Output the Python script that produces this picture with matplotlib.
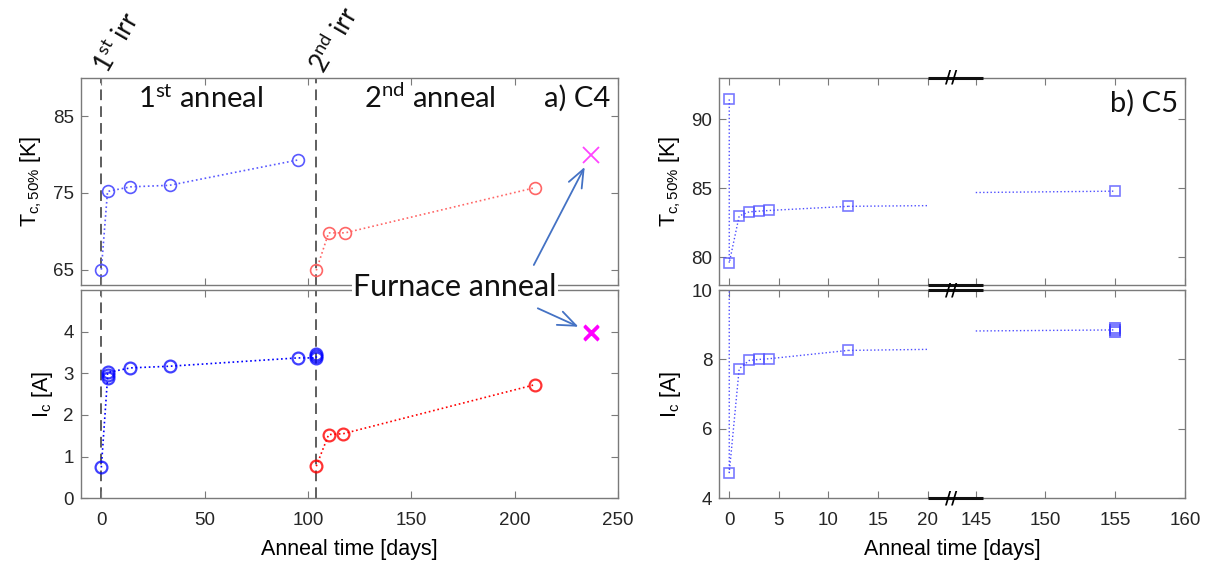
import numpy as np
import matplotlib
matplotlib.use("Agg")
import matplotlib.pyplot as plt

plt.rcParams['font.family'] = ['Liberation Sans', 'DejaVu Sans']
plt.rcParams['font.size'] = 13

# ---- data: sample C4 (two irradiations, two anneals) ----
irr_days = [0, 104]
c4_tc_days_1 = [0, 3, 14, 33, 95]
c4_tc_1 = [65.0, 75.2, 75.8, 76.0, 79.3]
c4_tc_days_2 = [104, 110, 118, 210]
c4_tc_2 = [64.9, 69.8, 69.8, 75.7]
c4_ic_days_1 = [0, 3, 3, 3, 14, 33, 95, 104, 104, 104]
c4_ic_1 = [0.74, 2.88, 2.95, 3.02, 3.13, 3.17, 3.37, 3.37, 3.41, 3.46]
c4_ic_days_2 = [104, 110, 117, 210]
c4_ic_2 = [0.77, 1.53, 1.55, 2.73]
furnace_day = [237]
furnace_tc = [80.0]
furnace_ic = [3.96, 4.0]

# ---- data: sample C5 ----
c5_tc_days = [0, 0, 1, 2, 3, 4, 12]
c5_tc = [91.45, 79.6, 83.0, 83.3, 83.35, 83.4, 83.7]
c5_tc_late_days = [155]
c5_tc_late = [84.8]
c5_tc_trend_days = [12, 20, 145, 155]
c5_tc_trend = [83.7, 83.75, 84.7, 84.8]
c5_ic_days = [0, 0, 1, 2, 3, 4, 12]
c5_ic = [10.6, 4.74, 7.73, 7.97, 8.0, 8.02, 8.26]
c5_ic_late_days = [155, 155, 155]
c5_ic_late = [8.78, 8.84, 8.9]
c5_ic_trend_days = [12, 20, 145, 155]
c5_ic_trend = [8.26, 8.29, 8.82, 8.85]

# broken x axis for C5: 0-20 | 145-160
GAP = 4.85
R = 1.406


def fwd(x):
    x = np.asarray(x, float)
    return np.where(x <= 20, x,
                    np.where(x >= 145, 20 + GAP + (x - 145) * R,
                             20 + (x - 20) * GAP / 125.0))


def inv(u):
    u = np.asarray(u, float)
    return np.where(u <= 20, u,
                    np.where(u >= 20 + GAP, 145 + (u - 20 - GAP) / R,
                             20 + (u - 20) * 125.0 / GAP))


ANN = ['Lato', 'DejaVu Sans']
edge = '#7a7a7a'
tick_col = '#262626'


def style(ax):
    for s in ax.spines.values():
        s.set_color(edge)
        s.set_linewidth(1.0)
    ax.tick_params(direction='in', length=5, top=True, right=True,
                   color=edge, labelcolor=tick_col, labelsize=13.5)
    ax.tick_params(axis='x', pad=10)
    ax.tick_params(axis='y', pad=5)


fig = plt.figure(figsize=(12.11, 5.63), dpi=100)
ax_tc = fig.add_axes([0.0666, 0.4938, 0.4437, 0.3677])
ax_ic = fig.add_axes([0.0666, 0.1149, 0.4437, 0.37])
ax_tc5 = fig.add_axes([0.594, 0.4938, 0.3845, 0.3677])
ax_ic5 = fig.add_axes([0.594, 0.1149, 0.3845, 0.37])

blue_l = (0.35, 0.35, 1.0)
red_l = (1.0, 0.4, 0.4)

# ---------------- C4 Tc ----------------
ax_tc.plot(c4_tc_days_1, c4_tc_1, ':', color=blue_l, lw=1.2, marker='o', ms=8.5,
           mfc='none', mec=blue_l, mew=1.2)
ax_tc.plot(c4_tc_days_2, c4_tc_2, ':', color=red_l, lw=1.2, marker='o', ms=8.5,
           mfc='none', mec=red_l, mew=1.2)
ax_tc.plot(furnace_day, furnace_tc, 'x', color='#ff44ff', ms=11, mew=1.3)
ax_tc.set_xlim(-10, 250)
ax_tc.set_ylim(63, 90)
ax_tc.set_yticks([65, 75, 85])
ax_tc.set_xticks([0, 50, 100, 150, 200, 250])
ax_tc.set_xticklabels([])
ax_tc.set_ylabel(r'T$_\mathregular{c,50\%}$ [K]', fontsize=15.5, labelpad=6)

# ---------------- C4 Ic ----------------
ax_ic.plot(c4_ic_days_1, c4_ic_1, ':', color='b', lw=1.2, marker='o', ms=8.5,
           mfc='none', mec=(0, 0, 1, 0.75), mew=1.6)
ax_ic.plot(c4_ic_days_2, c4_ic_2, ':', color='r', lw=1.2, marker='o', ms=8.5,
           mfc='none', mec=(1, 0, 0, 0.8), mew=1.6)
ax_ic.plot(furnace_day * 2, furnace_ic, 'x', color='#ff00ff', ms=10, mew=2.2)
ax_ic.set_xlim(-10, 250)
ax_ic.set_ylim(0, 5)
ax_ic.set_yticks([0, 1, 2, 3, 4])
ax_ic.set_xticks([0, 50, 100, 150, 200, 250])
ax_ic.set_ylabel(r'I$_\mathregular{c}$ [A]', fontsize=15.5, labelpad=6)
ax_ic.set_xlabel('Anneal time [days]', fontsize=15.5, labelpad=7)

for ax in (ax_tc, ax_ic):
    style(ax)
    for d in irr_days:
        ax.axvline(d, color='#333333', lw=1.1, dashes=(7, 4), zorder=0)

# irradiation labels above the top panel
for d, lab in zip(irr_days, [r'$\mathregular{1^{st}}$ irr', r'$\mathregular{2^{nd}}$ irr']):
    ax_tc.annotate(lab, xy=(d, 1.0), xycoords=('data', 'axes fraction'),
                   xytext=(0, 5), textcoords='offset points', rotation=60,
                   rotation_mode='anchor', ha='left', va='center',
                   fontsize=19, family=ANN, color='#111111')

ax_tc.text(48, 0.9, r'$\mathregular{1^{st}}$ anneal', transform=ax_tc.get_xaxis_transform(),
           ha='center', va='center', fontsize=21, family=ANN, color='#111111')
ax_tc.text(159, 0.9, r'$\mathregular{2^{nd}}$ anneal', transform=ax_tc.get_xaxis_transform(),
           ha='center', va='center', fontsize=21, family=ANN, color='#111111')
ax_tc.text(0.985, 0.9, 'a) C4', transform=ax_tc.transAxes, ha='right', va='center',
           fontsize=21, family=ANN, color='#111111')

# furnace anneal label and arrows
fig.text(0.3757, 0.4902, 'Furnace anneal', ha='center', va='center', fontsize=22,
         family=ANN, color='#111111', zorder=10,
         bbox=dict(facecolor='white', edgecolor='none', pad=1.0))
arrow = dict(arrowstyle='->,head_length=1.0,head_width=0.4', color='#4472C4', lw=1.3,
             shrinkA=0, shrinkB=10)
ax_tc.annotate('', xy=(furnace_day[0], furnace_tc[0]), xycoords='data',
               xytext=(0.4408, 0.5293), textcoords='figure fraction',
               arrowprops=arrow, annotation_clip=False)
ax_ic.annotate('', xy=(furnace_day[0], np.mean(furnace_ic)), xycoords='data',
               xytext=(0.4441, 0.4524), textcoords='figure fraction',
               arrowprops=arrow, annotation_clip=False)

# ---------------- C5 ----------------
sq_col = (0.3, 0.3, 1.0)
for ax in (ax_tc5, ax_ic5):
    ax.set_xscale('function', functions=(fwd, inv))
    ax.set_xlim(-1, 160)
    ax.set_xticks([0, 5, 10, 15, 20, 145, 150, 155, 160])

ax_tc5.plot(c5_tc_days, c5_tc, ':', color=sq_col, lw=1.0, marker='s', ms=7,
            mfc='none', mec=(0.3, 0.3, 1.0, 0.75), mew=1.2)
ax_tc5.plot(c5_tc_trend_days[:2], c5_tc_trend[:2], ':', color=sq_col, lw=1.0)
ax_tc5.plot(c5_tc_trend_days[2:], c5_tc_trend[2:], ':', color=sq_col, lw=1.0)
ax_tc5.plot(c5_tc_late_days, c5_tc_late, 's', ms=7, mfc='none',
            mec=(0.3, 0.3, 1.0, 0.75), mew=1.2)
ax_tc5.set_ylim(78, 93)
ax_tc5.set_yticks([80, 85, 90])
ax_tc5.set_xticklabels([])
ax_tc5.set_ylabel(r'T$_\mathregular{c,50\%}$ [K]', fontsize=15.5, labelpad=6)
ax_tc5.text(0.985, 0.88, 'b) C5', transform=ax_tc5.transAxes, ha='right', va='center',
            fontsize=21, family=ANN, color='#111111')

ax_ic5.plot(c5_ic_days, c5_ic, ':', color=sq_col, lw=1.0, marker='s', ms=7,
            mfc='none', mec=(0.3, 0.3, 1.0, 0.75), mew=1.2)
ax_ic5.plot(c5_ic_trend_days[:2], c5_ic_trend[:2], ':', color=sq_col, lw=1.0)
ax_ic5.plot(c5_ic_trend_days[2:], c5_ic_trend[2:], ':', color=sq_col, lw=1.0)
ax_ic5.plot(c5_ic_late_days, c5_ic_late, 's', ms=7, mfc='none',
            mec=(0.2, 0.2, 1.0, 0.7), mew=1.3)
ax_ic5.set_ylim(4, 10)
ax_ic5.set_yticks([4, 6, 8, 10])
ax_ic5.set_ylabel(r'I$_\mathregular{c}$ [A]', fontsize=15.5, labelpad=6)
ax_ic5.set_xlabel('Anneal time [days]', fontsize=15.5, labelpad=7)

for ax in (ax_tc5, ax_ic5):
    style(ax)


def draw_break(ax, y, slash=True):
    tr = ax.get_xaxis_transform()
    ax.plot([20, 145.5], [y, y], transform=tr, color='#111111', lw=2.2,
            clip_on=False, zorder=6, solid_capstyle='butt')
    if slash:
        ax.text(82, y, '//', transform=tr, ha='center', va='center', fontsize=12,
                fontweight='bold', family='DejaVu Sans', clip_on=False, zorder=7)


draw_break(ax_tc5, 1.0)
draw_break(ax_tc5, 0.0, slash=False)
draw_break(ax_ic5, 1.0)
draw_break(ax_ic5, 0.0)

fig.savefig('out.png', dpi=100, facecolor='white')
